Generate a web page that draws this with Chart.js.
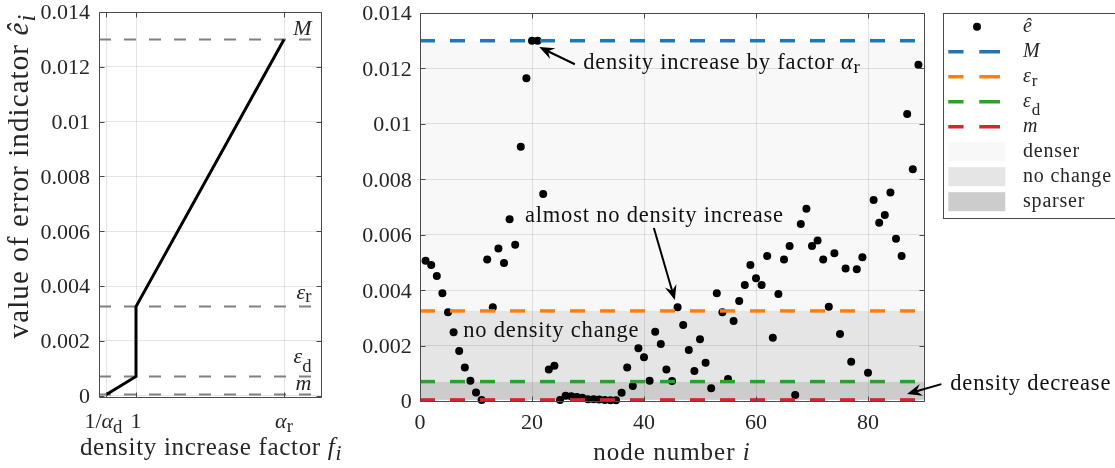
<!DOCTYPE html>
<html>
<head>
<meta charset="utf-8">
<script src="https://cdn.jsdelivr.net/npm/chart.js@4.4.1/dist/chart.umd.min.js"></script>
<style>
  html, body { margin: 0; padding: 0; background: #fff; overflow: hidden; }
  #wrap { position: relative; width: 1115px; height: 468px; }
  #leftBox { position: absolute; left: 0; top: 0; width: 360px; height: 468px; z-index: 2; }
  #rightBox { position: absolute; left: 340px; top: 0; width: 775px; height: 468px; z-index: 1; }
</style>
</head>
<body>
<div id="wrap">
  <div id="leftBox"><canvas id="mapping" width="360" height="468"></canvas></div>
  <div id="rightBox"><canvas id="nodes" width="775" height="468"></canvas></div>
</div>
<script>
// ---- refinement thresholds ----
const M = 0.013;          // upper bound of the indicator
const EPS_R = 0.00325;    // refinement threshold
const EPS_D = 0.0007;     // coarsening threshold
const M_LOW = 0.00004;    // lower bound of the indicator
const ALPHA_R = 5;        // maximal density increase factor
const ALPHA_D = 5;        // maximal density decrease factor

// ---- mapping indicator -> density factor (left panel) ----
const densityFactor = [1 / ALPHA_D, 1, 1, ALPHA_R];
const indicatorBreaks = [M_LOW, EPS_D, EPS_R, M];
const thresholdLevels = [M, EPS_R, EPS_D, M_LOW];
const factorTicks = [1 / ALPHA_D, 1, ALPHA_R];
const factorRange = [0, 6];

// ---- error indicator per node (right panel) ----
const nodeNumbers = [
  1, 2, 3, 4, 5, 6, 7, 8, 9, 10,
  11, 12, 13, 14, 15, 16, 17, 18, 19, 20,
  21, 22, 23, 24, 25, 26, 27, 28, 29, 30,
  31, 32, 33, 34, 35, 36, 37, 38, 39, 40,
  41, 42, 43, 44, 45, 46, 47, 48, 49, 50,
  51, 52, 53, 54, 55, 56, 57, 58, 59, 60,
  61, 62, 63, 64, 65, 66, 67, 68, 69, 70,
  71, 72, 73, 74, 75, 76, 77, 78, 79, 80,
  81, 82, 83, 84, 85, 86, 87, 88, 89
];
const errorIndicator = [
  0.00506, 0.00491, 0.00451, 0.00389, 0.00320, 0.00248, 0.00180, 0.00121, 0.00073, 0.00031,
  0.00004, 0.00511, 0.00338, 0.00550, 0.00498, 0.00656, 0.00564, 0.00917, 0.01165, 0.01300,
  0.01300, 0.00747, 0.00114, 0.00127, 0.00004, 0.00019, 0.00017, 0.00014, 0.00012, 0.00006,
  0.00006, 0.00005, 0.00004, 0.00003, 0.00003, 0.00030, 0.00121, 0.00054, 0.00190, 0.00158,
  0.00073, 0.00250, 0.00206, 0.00114, 0.00072, 0.00338, 0.00274, 0.00184, 0.00108, 0.00223,
  0.00138, 0.00046, 0.00389, 0.00320, 0.00079, 0.00289, 0.00361, 0.00419, 0.00491, 0.00443,
  0.00419, 0.00523, 0.00228, 0.00386, 0.00511, 0.00559, 0.00022, 0.00639, 0.00694, 0.00559,
  0.00579, 0.00511, 0.00340, 0.00533, 0.00242, 0.00478, 0.00142, 0.00475, 0.00519, 0.00102,
  0.00725, 0.00643, 0.00671, 0.00752, 0.00585, 0.00523, 0.01036, 0.00836, 0.01213
];
const nodeTicks = [0, 20, 40, 60, 80];
const nodeRange = [0, 90];
const errorTicks = [0, 0.002, 0.004, 0.006, 0.008, 0.01, 0.012, 0.014];

// ---- styling ----
const SERIF = '"Liberation Serif", "Times New Roman", serif';
const INK = '#262626';
const FRAME = '#4a4a4a';
const GRID = 'rgba(0,0,0,0.1)';
const LINE_COLORS = ['#1f77b4', '#ff7f0e', '#2ca02c', '#d62728'];
const BAND_COLORS = { denser: '#f8f8f8', noChange: '#e5e5e5', sparser: '#cccccc' };

const fmtTick = v => String(parseFloat(v.toFixed(3)));

// Draws a run of text pieces (roman / italic / subscript) on one baseline.
function drawRich(ctx, parts, x, y, o) {
  const size = o.size, subScale = 0.85;
  ctx.save();
  ctx.fillStyle = o.color || INK;
  ctx.textAlign = 'left';
  ctx.textBaseline = 'alphabetic';
  ctx.letterSpacing = (o.spacing || 0) + 'px';
  const fonts = parts.map(p => (p.i ? 'italic ' : '') + (p.sub ? size * subScale : size) + 'px ' + SERIF);
  const widths = parts.map((p, k) => { ctx.font = fonts[k]; return ctx.measureText(p.t).width; });
  const total = widths.reduce((s, w) => s + w, 0);
  let cx = o.align === 'center' ? x - total / 2 : o.align === 'right' ? x - total : x;
  parts.forEach((p, k) => {
    ctx.font = fonts[k];
    ctx.fillText(p.t, cx, y + (p.sub ? (p.drop ?? 0.22) * size : 0));
    cx += widths[k];
  });
  ctx.restore();
  return total;
}

// Box around the axes with inward tick marks on all four sides.
function drawFrame(chart, xTicks, yTicks) {
  const { ctx, chartArea: a, scales: { x, y } } = chart;
  const L = Math.round(a.left) + 0.5, R = Math.round(a.right) + 0.5;
  const T = Math.round(a.top) + 0.5, B = Math.round(a.bottom) + 0.5;
  ctx.save();
  ctx.strokeStyle = FRAME;
  ctx.lineWidth = 1;
  ctx.beginPath();
  ctx.rect(L, T, R - L, B - T);
  xTicks.forEach(v => {
    const px = Math.round(x.getPixelForValue(v)) + 0.5;
    ctx.moveTo(px, B); ctx.lineTo(px, B - 5);
    ctx.moveTo(px, T); ctx.lineTo(px, T + 5);
  });
  yTicks.forEach(v => {
    const py = Math.round(y.getPixelForValue(v)) + 0.5;
    ctx.moveTo(L, py); ctx.lineTo(L + 5, py);
    ctx.moveTo(R, py); ctx.lineTo(R - 5, py);
  });
  ctx.stroke();
  ctx.restore();
}

function drawArrow(ctx, x0, y0, x1, y1) {
  const ang = Math.atan2(y1 - y0, x1 - x0);
  const ux = Math.cos(ang), uy = Math.sin(ang), nx = -uy, ny = ux;
  const L = 15, W = 6;
  ctx.save();
  ctx.strokeStyle = '#000';
  ctx.fillStyle = '#000';
  ctx.lineWidth = 2;
  ctx.beginPath();
  ctx.moveTo(x0, y0);
  ctx.lineTo(x1 - ux * L * 0.6, y1 - uy * L * 0.6);
  ctx.stroke();
  ctx.beginPath();
  ctx.moveTo(x1, y1);
  ctx.lineTo(x1 - ux * L + nx * W, y1 - uy * L + ny * W);
  ctx.lineTo(x1 - ux * L * 0.65, y1 - uy * L * 0.65);
  ctx.lineTo(x1 - ux * L - nx * W, y1 - uy * L - ny * W);
  ctx.closePath();
  ctx.fill();
  ctx.restore();
}

const fixAxis = size => s => {
  if (s.isHorizontal()) s.height = size; else s.width = size;
  s.paddingTop = s.paddingBottom = s.paddingLeft = s.paddingRight = 0;
};

// ================= left panel: indicator -> density factor =================
const thresholdLabels = [
  [{ t: 'M', i: true }],
  [{ t: 'ε', i: true }, { t: 'r', sub: true, drop: 0.16 }],
  [{ t: 'ε', i: true }, { t: 'd', sub: true, drop: 0.42 }],
  [{ t: 'm', i: true }]
];
const factorTickLabels = [
  [{ t: '1/' }, { t: 'α', i: true }, { t: 'd', sub: true, drop: 0.22 }],
  [{ t: '1' }],
  [{ t: 'α', i: true }, { t: 'r', sub: true, drop: 0.18 }]
];

const leftDecor = {
  id: 'leftDecor',
  afterDraw(chart) {
    const { ctx, chartArea: a, scales: { x, y } } = chart;
    drawFrame(chart, factorTicks, errorTicks);
    errorTicks.forEach(v =>
      drawRich(ctx, [{ t: fmtTick(v) }], a.left - 9, y.getPixelForValue(v) + 7.4, { size: 22, align: 'right' }));
    factorTickLabels.forEach((parts, k) =>
      drawRich(ctx, parts, x.getPixelForValue(factorTicks[k]) - (k === 0 ? 3 : 0), a.bottom + 31, { size: 22, align: 'center' }));
    thresholdLabels.forEach((parts, k) => {
      const drop = Math.max(0, ...parts.map(p => p.sub ? p.drop * 22 : 0));
      drawRich(ctx, parts, a.right - 9.5, y.getPixelForValue(thresholdLevels[k]) - 4.5 - drop, { size: 22, align: 'right' });
    });
    drawRich(ctx, [{ t: 'density increase factor ' }, { t: 'f', i: true }, { t: 'i', i: true, sub: true, drop: 0.2 }],
      (a.left + a.right) / 2 + 1, 455, { size: 25, align: 'center', spacing: 0.7 });
    ctx.save();
    ctx.translate(28, 176);
    ctx.rotate(-Math.PI / 2);
    drawRich(ctx, [{ t: 'value of error indicator ' }, { t: 'ê', i: true }, { t: 'i', i: true, sub: true, drop: 0.25 }],
      0, 0, { size: 29, align: 'center', spacing: 1.1 });
    ctx.restore();
  }
};

new Chart(document.getElementById('mapping'), {
  type: 'scatter',
  data: {
    datasets: [
      {
        data: densityFactor.map((f, k) => ({ x: f, y: indicatorBreaks[k] })),
        showLine: true, borderColor: '#000', borderWidth: 3, pointRadius: 0,
        borderJoinStyle: 'miter', order: 0, clip: false
      },
      ...thresholdLevels.map(v => ({
        data: [{ x: factorRange[0], y: v }, { x: factorRange[1], y: v }],
        showLine: true, borderColor: '#808080', borderWidth: 2, borderDash: [12, 13],
        pointRadius: 0, order: 1, clip: false
      }))
    ]
  },
  options: {
    responsive: false, animation: false, events: [],
    layout: { padding: { top: 12, right: 39, left: 0, bottom: 0 } },
    plugins: { legend: { display: false }, tooltip: { enabled: false } },
    scales: {
      x: {
        type: 'linear', min: factorRange[0], max: factorRange[1],
        afterBuildTicks: s => { s.ticks = factorTicks.map(v => ({ value: v })); },
        ticks: { display: false },
        grid: { color: GRID, drawTicks: false },
        border: { display: false },
        afterFit: fixAxis(71)
      },
      y: {
        type: 'linear', min: -0.00005, max: 0.014,
        afterBuildTicks: s => { s.ticks = errorTicks.map(v => ({ value: v })); },
        ticks: { display: false },
        grid: { color: GRID, drawTicks: false },
        border: { display: false },
        afterFit: fixAxis(99)
      }
    }
  },
  plugins: [leftDecor]
});

// ================= right panel: indicator per node =================
const bands = [
  { lo: EPS_R, hi: M, color: BAND_COLORS.denser },
  { lo: EPS_D, hi: EPS_R, color: BAND_COLORS.noChange },
  { lo: M_LOW, hi: EPS_D, color: BAND_COLORS.sparser }
];

const legendEntries = [
  { kind: 'marker', parts: [{ t: 'ê', i: true }] },
  { kind: 'line', color: LINE_COLORS[0], parts: [{ t: 'M', i: true }] },
  { kind: 'line', color: LINE_COLORS[1], parts: [{ t: 'ε', i: true }, { t: 'r', sub: true, drop: 0.2 }] },
  { kind: 'line', color: LINE_COLORS[2], parts: [{ t: 'ε', i: true }, { t: 'd', sub: true, drop: 0.38 }] },
  { kind: 'line', color: LINE_COLORS[3], parts: [{ t: 'm', i: true }] },
  { kind: 'patch', color: BAND_COLORS.denser, parts: [{ t: 'denser' }] },
  { kind: 'patch', color: BAND_COLORS.noChange, parts: [{ t: 'no change' }] },
  { kind: 'patch', color: BAND_COLORS.sparser, parts: [{ t: 'sparser' }] }
];

const notes = [
  { parts: [{ t: 'density increase by factor ' }, { t: 'α', i: true }, { t: 'r', sub: true, drop: 0.2 }],
    at: [29.15, 0.01199], arrow: [27.66, 0.01215, 21.29, 0.01277] },
  { parts: [{ t: 'almost no density increase' }],
    at: [18.74, 0.00645], arrow: [41.76, 0.00624, 45.51, 0.00364] },
  { parts: [{ t: 'no density change' }], at: [7.73, 0.00230] },
  { parts: [{ t: 'density decrease' }],
    at: [94.7, 0.00040], arrow: [93.1, 0.00061, 86.97, 0.00025] }
];

const rightDecor = {
  id: 'rightDecor',
  beforeDraw(chart) {
    const { ctx, chartArea: a, scales: { y } } = chart;
    ctx.save();
    bands.forEach(b => {
      const top = y.getPixelForValue(b.hi), bot = y.getPixelForValue(b.lo);
      ctx.fillStyle = b.color;
      ctx.fillRect(a.left, top, a.right - a.left, bot - top);
    });
    ctx.restore();
  },
  afterDraw(chart) {
    const { ctx, chartArea: a, scales: { x, y } } = chart;
    drawFrame(chart, nodeTicks, errorTicks);
    errorTicks.forEach(v =>
      drawRich(ctx, [{ t: fmtTick(v) }], a.left - 8.3, y.getPixelForValue(v) + 7.4, { size: 22, align: 'right' }));
    nodeTicks.forEach(v =>
      drawRich(ctx, [{ t: fmtTick(v) }], x.getPixelForValue(v), a.bottom + 28.3, { size: 22, align: 'center' }));
    drawRich(ctx, [{ t: 'node number ' }, { t: 'i', i: true }], (a.left + a.right) / 2, 460,
      { size: 25, align: 'center', spacing: 1 });

    notes.forEach(n => {
      drawRich(ctx, n.parts, x.getPixelForValue(n.at[0]), y.getPixelForValue(n.at[1]),
        { size: 22.5, spacing: 0.8, color: '#111' });
      if (n.arrow) {
        drawArrow(ctx, x.getPixelForValue(n.arrow[0]), y.getPixelForValue(n.arrow[1]),
          x.getPixelForValue(n.arrow[2]), y.getPixelForValue(n.arrow[3]));
      }
    });

    // legend
    const bx = a.right + 19, by = 12.5, bh = 204.5;
    ctx.save();
    ctx.fillStyle = '#fff';
    ctx.fillRect(bx, by, chart.width - bx + 5, bh);
    ctx.strokeStyle = FRAME;
    ctx.lineWidth = 1;
    ctx.strokeRect(Math.round(bx) + 0.5, Math.round(by) + 0.5, chart.width, Math.round(bh));
    legendEntries.forEach((e, k) => {
      const cy = by + 14.2 + 25 * k;
      if (e.kind === 'marker') {
        ctx.fillStyle = '#000';
        ctx.beginPath();
        ctx.arc(bx + 34, cy, 4, 0, Math.PI * 2);
        ctx.fill();
      } else if (e.kind === 'line') {
        ctx.strokeStyle = e.color;
        ctx.lineWidth = 3.5;
        ctx.beginPath();
        ctx.moveTo(bx + 5.3, cy); ctx.lineTo(bx + 20.5, cy);
        ctx.moveTo(bx + 36.3, cy); ctx.lineTo(bx + 57, cy);
        ctx.stroke();
      } else {
        ctx.fillStyle = e.color;
        ctx.fillRect(bx + 5.3, cy - 9.5, 57, 19);
      }
      drawRich(ctx, e.parts, bx + 80, cy + 5.5, { size: 20, spacing: 0.8 });
    });
    ctx.restore();
  }
};

new Chart(document.getElementById('nodes'), {
  type: 'scatter',
  data: {
    datasets: [
      ...thresholdLevels.map((v, k) => ({
        data: [{ x: nodeRange[0], y: v }, { x: nodeRange[1], y: v }],
        showLine: true, borderColor: LINE_COLORS[k], borderWidth: 3.5, borderDash: [15, 15],
        borderCapStyle: 'butt', pointRadius: 0, order: 0, clip: false
      })),
      {
        data: nodeNumbers.map((n, k) => ({ x: n, y: errorIndicator[k] })),
        pointRadius: 4, pointBackgroundColor: '#000', pointBorderWidth: 0,
        showLine: false, order: 1, clip: false
      }
    ]
  },
  options: {
    responsive: false, animation: false, events: [],
    layout: { padding: { top: 13, right: 191, left: 0, bottom: 0 } },
    plugins: { legend: { display: false }, tooltip: { enabled: false } },
    scales: {
      x: {
        type: 'linear', min: nodeRange[0], max: nodeRange[1],
        afterBuildTicks: s => { s.ticks = nodeTicks.map(v => ({ value: v })); },
        ticks: { display: false },
        grid: { color: GRID, drawTicks: false },
        border: { display: false },
        afterFit: fixAxis(67)
      },
      y: {
        type: 'linear', min: 0, max: 0.014,
        afterBuildTicks: s => { s.ticks = errorTicks.map(v => ({ value: v })); },
        ticks: { display: false },
        grid: { color: GRID, drawTicks: false },
        border: { display: false },
        afterFit: fixAxis(80)
      }
    }
  },
  plugins: [rightDecor]
});
</script>
</body>
</html>
